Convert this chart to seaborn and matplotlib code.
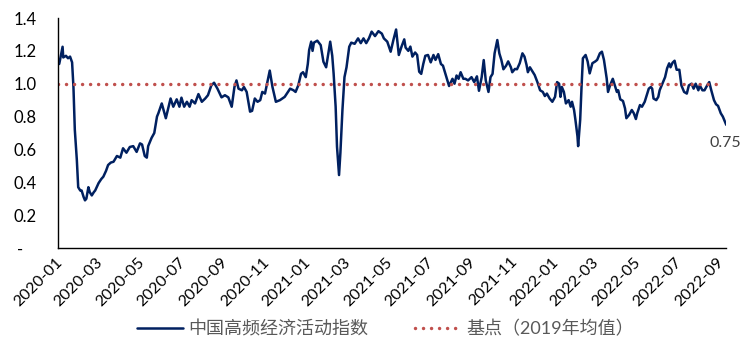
import pandas as pd
import seaborn as sns
import matplotlib.pyplot as plt
import matplotlib.dates as mdates
from matplotlib.transforms import ScaledTranslation


START_DATE = '2020-01-01'

# days since START_DATE
DAY_OFFSETS = [
    2, 3, 7, 8, 12, 15, 18, 21, 23, 25, 28, 30, 33, 35, 38, 40, 42, 45, 47, 50,
    53, 55, 60, 64, 67, 71, 74, 78, 82, 87, 92, 96, 101, 106, 111, 116, 121, 124, 128, 131,
    133, 138, 142, 146, 148, 153, 155, 159, 163, 166, 170, 175, 179, 182, 186, 190, 194, 197, 202, 207,
    212, 217, 221, 226, 230, 235, 241, 246, 251, 256, 260, 263, 266, 271, 274, 278, 283, 286, 290, 294,
    298, 301, 305, 309, 312, 316, 321, 327, 334, 342, 347, 350, 354, 358, 361, 365, 368, 370, 373, 375,
    377, 382, 387, 391, 395, 398, 401, 404, 406, 409, 411, 414, 416, 419, 422, 425, 429, 432, 437, 442,
    446, 450, 454, 458, 462, 467, 472, 477, 480, 485, 490, 494, 498, 502, 506, 510, 512, 516, 519, 522,
    526, 529, 532, 535, 538, 541, 545, 549, 553, 556, 560, 564, 567, 572, 576, 581, 584, 587, 590, 593,
    597, 600, 604, 609, 613, 617, 620, 624, 627, 630, 634, 637, 640, 643, 647, 650, 653, 656, 660, 663,
    667, 669, 673, 676, 680, 684, 687, 690, 692, 695, 698, 702, 706, 710, 714, 717, 720, 724, 728, 732,
    735, 738, 740, 742, 745, 748, 752, 755, 757, 760, 762, 765, 766, 769, 771, 773, 777, 780, 783, 787,
    791, 794, 798, 801, 804, 808, 810, 813, 817, 820, 823, 825, 828, 832, 835, 837, 841, 845, 848, 851,
    853, 857, 860, 864, 867, 870, 873, 875, 877, 881, 884, 886, 890, 894, 897, 900, 902, 905, 908, 911,
    915, 918, 922, 926, 929, 933, 936, 939, 943, 945, 949, 952, 956, 959, 962, 966, 969, 972, 976, 979,
    982, 984,
]

INDEX_VALUES = [
    1.12, 1.14, 1.225, 1.16, 1.17, 1.155, 1.165, 1.13, 0.98, 0.72, 0.535, 0.37, 0.35, 0.35, 0.31, 0.29, 0.30, 0.37, 0.34, 0.32,
    0.34, 0.35, 0.395, 0.42, 0.434, 0.47, 0.505, 0.52, 0.525, 0.56, 0.55, 0.607, 0.58, 0.615, 0.62, 0.585, 0.637, 0.63, 0.56, 0.55,
    0.62, 0.67, 0.70, 0.80, 0.82, 0.88, 0.85, 0.79, 0.86, 0.91, 0.86, 0.905, 0.86, 0.915, 0.86, 0.89, 0.86, 0.90, 0.88, 0.937,
    0.89, 0.91, 0.93, 0.99, 1.006, 0.97, 0.917, 0.93, 0.917, 0.86, 0.98, 1.02, 0.97, 0.96, 0.98, 0.95, 0.83, 0.835, 0.91, 0.89,
    0.90, 0.95, 0.94, 1.02, 1.08, 0.98, 0.89, 0.90, 0.92, 0.97, 0.96, 0.95, 0.99, 1.06, 1.07, 1.04, 1.12, 1.205, 1.256, 1.20,
    1.25, 1.262, 1.235, 1.134, 1.10, 1.18, 1.256, 1.17, 1.063, 0.86, 0.617, 0.444, 0.58, 0.84, 1.04, 1.10, 1.225, 1.25, 1.243, 1.276,
    1.247, 1.276, 1.247, 1.276, 1.317, 1.29, 1.32, 1.305, 1.276, 1.256, 1.195, 1.266, 1.33, 1.175, 1.226, 1.27, 1.22, 1.20, 1.226, 1.165,
    1.19, 1.175, 1.073, 1.06, 1.12, 1.17, 1.175, 1.13, 1.175, 1.145, 1.18, 1.12, 1.11, 1.04, 0.986, 1.03, 1.00, 1.05, 1.03, 1.07,
    1.03, 1.03, 1.02, 1.04, 1.01, 1.045, 0.957, 1.04, 1.144, 1.02, 0.95, 1.04, 1.06, 1.185, 1.266, 1.185, 1.144, 1.088, 1.11, 1.136,
    1.10, 1.07, 1.09, 1.088, 1.125, 1.185, 1.165, 1.115, 1.07, 1.10, 1.08, 1.053, 1.01, 0.96, 0.95, 0.925, 0.94, 0.91, 0.89, 0.92,
    1.01, 1.00, 0.92, 0.98, 0.95, 0.88, 0.90, 0.86, 0.89, 0.84, 0.78, 0.68, 0.62, 0.78, 0.98, 1.155, 1.175, 1.135, 1.063, 1.125,
    1.135, 1.145, 1.185, 1.195, 1.145, 1.033, 0.95, 0.99, 1.03, 0.99, 0.95, 0.96, 0.905, 0.895, 0.85, 0.79, 0.81, 0.84, 0.82, 0.785,
    0.82, 0.87, 0.86, 0.89, 0.93, 0.97, 0.98, 0.97, 0.91, 0.90, 0.92, 0.96, 1.00, 1.04, 1.094, 1.124, 1.10, 1.128, 1.14, 1.085,
    1.085, 0.99, 0.95, 0.94, 0.99, 1.00, 0.97, 1.00, 0.96, 0.99, 0.96, 0.96, 0.99, 1.01, 0.96, 0.90, 0.875, 0.865, 0.82, 0.80,
    0.77, 0.75,
]

BASELINE_VALUE = 1.0
LAST_LABEL = '0.75'

SERIES_NAME = '中国高频经济活动指数'
BASELINE_NAME = '基点（2019年均值）'

Y_TICKS = [0.0, 0.2, 0.4, 0.6, 0.8, 1.0, 1.2, 1.4]
Y_TICK_LABELS = ['-', '0.2', '0.4', '0.6', '0.8', '1.0', '1.2', '1.4']

LINE_COLOR = '#002060'
BASE_COLOR = '#C0504D'


def build_frame() -> pd.DataFrame:
    dates = pd.Timestamp(START_DATE) + pd.to_timedelta(DAY_OFFSETS, unit='D')
    return pd.DataFrame({'date': dates, 'value': INDEX_VALUES})


def draw_chart(df: pd.DataFrame):
    sns.set_style('white')
    plt.rcParams['font.family'] = ['Lato', 'Noto Sans CJK SC']

    fig = plt.figure(figsize=(7.51, 3.56), dpi=100)
    ax = fig.add_axes([0.077, 0.3034, 0.890, 0.646])

    sns.lineplot(data=df, x='date', y='value', color=LINE_COLOR, linewidth=1.8,
                 ax=ax, label=SERIES_NAME)
    ax.axhline(BASELINE_VALUE, xmax=0.99, color=BASE_COLOR, linewidth=2.5,
               linestyle=(0, (0.01, 2.3)), dash_capstyle='round', label=BASELINE_NAME)

    ax.set_xlim(pd.Timestamp(START_DATE), df['date'].iloc[-1])
    ax.set_ylim(0, 1.4)
    ax.set_xlabel('')
    ax.set_ylabel('')

    # y axis
    ax.set_yticks(Y_TICKS)
    ax.set_yticklabels(Y_TICK_LABELS)
    ax.tick_params(axis='y', length=0, pad=15, labelsize=12, labelcolor='#000000')
    zero_lbl = ax.get_yticklabels()[0]
    zero_lbl.set_transform(zero_lbl.get_transform() + ScaledTranslation(-10 / 72, 0, fig.dpi_scale_trans))

    # x axis: labels every 2 months, tick marks only at year starts
    ax.xaxis.set_major_locator(mdates.MonthLocator(bymonth=[1, 3, 5, 7, 9, 11]))
    ax.xaxis.set_major_formatter(mdates.DateFormatter('%Y-%m'))
    ax.xaxis.set_minor_locator(mdates.YearLocator())
    ax.xaxis.remove_overlapping_locs = False
    ax.tick_params(axis='x', which='major', length=0, pad=5, labelsize=11.5,
                   labelrotation=45, labelcolor='#000000')
    ax.tick_params(axis='x', which='minor', length=5, width=1, direction='in', color='black')
    shift = ScaledTranslation(5 / 72, 0, fig.dpi_scale_trans)
    for lbl in ax.get_xticklabels():
        lbl.set_ha('right')
        lbl.set_transform(lbl.get_transform() + shift)

    for side in ['top', 'right']:
        ax.spines[side].set_visible(False)
    for side in ['left', 'bottom']:
        ax.spines[side].set_color('black')
        ax.spines[side].set_linewidth(1.0)
    ax.grid(False)

    ax.annotate(LAST_LABEL, xy=(df['date'].iloc[-1], df['value'].iloc[-1]),
                xytext=(-1, -8), textcoords='offset points', ha='center', va='top',
                fontsize=11.5, color='#404040')

    handles, labels = ax.get_legend_handles_labels()
    if ax.get_legend() is not None:
        ax.get_legend().remove()
    fig.legend(handles, labels, loc='center', bbox_to_anchor=(0.513, 0.076), ncol=2,
               frameon=False, fontsize=13, handlelength=2.6, handletextpad=0.25,
               columnspacing=2.6, labelcolor='#595959')

    fig.savefig('out.png', dpi=100)
    plt.close(fig)


if __name__ == '__main__':
    draw_chart(build_frame())
